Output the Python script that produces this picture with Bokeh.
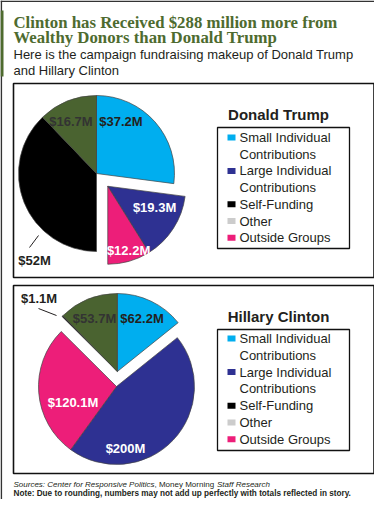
import numpy as np
from bokeh.plotting import figure
from bokeh.models import Range1d
from bokeh.core.properties import value
from bokeh.embed import file_html
from bokeh.resources import INLINE

# ---------------- data ----------------
title_lines = ["Clinton has Received $288 million more from",
               "Wealthy Donors than Donald Trump"]
subtitle_lines = ["Here is the campaign fundraising makeup of Donald Trump",
                  "and Hillary Clinton"]
categories = ["Small Individual Contributions", "Large Individual Contributions",
              "Self-Funding", "Other", "Outside Groups"]
legend_lines = [["Small Individual", "Contributions"],
                ["Large Individual", "Contributions"],
                ["Self-Funding"], ["Other"], ["Outside Groups"]]
candidates = ["Donald Trump", "Hillary Clinton"]
trump_values = [37.2, 19.3, 52.0, 16.7, 12.2]      # $M, in category order
clinton_values = [62.2, 200.0, 1.1, 53.7, 120.1]   # $M, in category order
trump_exploded = ["Large Individual Contributions", "Outside Groups"]
clinton_exploded = ["Self-Funding", "Other", "Small Individual Contributions"]
pie_order = ["Small Individual Contributions", "Large Individual Contributions",
             "Outside Groups", "Self-Funding", "Other"]   # clockwise from 12 o'clock
source_parts = ["Sources: Center for Responsive Politics", ", Money Morning", "Staff Research"]
note_text = "Note: Due to rounding, numbers may not add up perfectly with totals reflected in story."

# ---------------- style ----------------
pie_colors = {"Small Individual Contributions": "#00aeef",
              "Large Individual Contributions": "#2e3192",
              "Self-Funding": "#000000",
              "Other": "#4a6330",
              "Outside Groups": "#ed1e79"}
legend_colors = {"Small Individual Contributions": "#00aeef",
                 "Large Individual Contributions": "#2e3192",
                 "Self-Funding": "#000000",
                 "Other": "#cccccc",
                 "Outside Groups": "#ed1e79"}
label_colors = {"Small Individual Contributions": "#231f20",
                "Large Individual Contributions": "#ffffff",
                "Self-Funding": "#231f20",
                "Other": "#333333",
                "Outside Groups": "#ffffff"}
GREEN = "#4e6b2f"
DARK = "#231f20"
SANS = "Liberation Sans"
SERIF = "Liberation Serif"

W, H = 374, 499
PAGE_H = 515


def Y(py):
    return PAGE_H - py


p = figure(width=W, height=H, x_range=Range1d(0, W), y_range=Range1d(Y(H), Y(0)),
           output_backend="svg", toolbar_location=None, x_axis_type=None, y_axis_type=None,
           min_border=0)
p.grid.visible = False
p.outline_line_color = None
p.background_fill_color = "white"
p.border_fill_color = "white"

# outer frame (left and top edges) and left green accent bar
p.quad(left=[0], right=[1.6], top=[Y(0)], bottom=[Y(H)], fill_color="#333333", line_color=None)
p.quad(left=[0], right=[W], top=[Y(0)], bottom=[Y(1.6)], fill_color="#333333", line_color=None)
p.quad(left=[0], right=[3], top=[Y(10)], bottom=[Y(76)], fill_color=GREEN, line_color=None)

# titles
p.text(x=[13, 13], y=[Y(22), Y(37)], text=title_lines, text_font=value(SERIF),
       text_font_size=value("16.8px"), text_font_style="bold", text_color=GREEN,
       text_baseline="alphabetic")
p.text(x=[13, 13], y=[Y(54), Y(69.5)], text=subtitle_lines, text_font=value(SANS),
       text_font_size=value("13px"), text_color=DARK, text_baseline="alphabetic")

# panels
panels = [(13, 373.5, 83, 277), (13, 373.5, 285, 473)]
for (l, r, t, b) in panels:
    p.quad(left=[l], right=[r], top=[Y(t)], bottom=[Y(b)], fill_color=None,
           line_color="#111111", line_width=1.6)


def draw_pie(values, exploded, center, radius, offset, label_offsets, leader):
    vals = {c: v for c, v in zip(categories, values)}
    seq = [vals[c] for c in pie_order]
    total = sum(seq)
    cw = np.concatenate([[0.0], np.cumsum(seq)]) / total * 360.0
    # direction of the exploded group (weighted circular mean)
    sx = sy = 0.0
    for i, c in enumerate(pie_order):
        if c in exploded:
            w = cw[i + 1] - cw[i]
            m = np.radians((cw[i] + cw[i + 1]) / 2)
            sx += w * np.sin(m)
            sy += w * np.cos(m)
    mid = np.arctan2(sx, sy)
    ex = (center[0] + offset * np.sin(mid), center[1] - offset * np.cos(mid))
    for i, c in enumerate(pie_order):
        cx, cy = ex if c in exploded else center
        p.wedge(x=[cx], y=[Y(cy)], radius=radius,
                start_angle=np.radians(90 - cw[i + 1]), end_angle=np.radians(90 - cw[i]),
                direction="anticlock", fill_color=pie_colors[c],
                line_color="#444444", line_width=0.7)
    for c, (dx, dy) in label_offsets.items():
        cx, cy = ex if c in exploded else center
        txt = "${:g}M".format(vals[c])
        p.text(x=[cx + dx], y=[Y(cy + dy)], text=[txt], text_font=value(SANS),
               text_font_size=value("13px"), text_font_style="bold",
               text_color=label_colors[c], text_align="center", text_baseline="middle")
    (c, (x0, y0), (x1, y1)) = leader
    cx, cy = ex if c in exploded else center
    p.line(x=[cx + x0, cx + x1], y=[Y(cy + y0), Y(cy + y1)], line_color=DARK, line_width=1)


draw_pie(trump_values, trump_exploded, (96, 173), 78, 17,
         {"Small Individual Contributions": (24.5, -52),
          "Other": (-25.5, -52),
          "Large Individual Contributions": (46.8, 21.2),
          "Outside Groups": (20.8, 64.2),
          "Self-Funding": (-62, 87)},
         ("Self-Funding", (-58, 62), (-67, 74)))

draw_pie(clinton_values, clinton_exploded, (116, 386), 78, 15,
         {"Small Individual Contributions": (24.7, -53),
          "Other": (-22.8, -53),
          "Self-Funding": (-78.3, -73),
          "Outside Groups": (-43.5, 16),
          "Large Individual Contributions": (9, 62)},
         ("Self-Funding", (-78.8, -63), (-60.8, -56)))


def draw_legend(name, title_y, box, first_y, pitch):
    l, r, t, b = box
    p.text(x=[278], y=[Y(title_y)], text=[name], text_font=value(SANS),
           text_font_size=value("15px"), text_font_style="bold", text_color=DARK,
           text_align="center", text_baseline="middle")
    p.quad(left=[l], right=[r], top=[Y(t)], bottom=[Y(b)], fill_color="white",
           line_color="#111111", line_width=1.3)
    y = first_y
    xs, ys, texts = [], [], []
    for c, lines in zip(categories, legend_lines):
        p.quad(left=[227], right=[235], top=[Y(y - 3)], bottom=[Y(y + 3)],
               fill_color=legend_colors[c], line_color=None)
        for ln in lines:
            xs.append(239)
            ys.append(Y(y))
            texts.append(ln)
            y += pitch
    p.text(x=xs, y=ys, text=texts, text_font=value(SANS), text_font_size=value("13px"),
           text_color=DARK, text_baseline="middle")


draw_legend(candidates[0], 114, (217, 349, 127, 248), 137, 16.7)
draw_legend(candidates[1], 316, (217, 349, 329, 450), 338, 16.8)

# footer
FY1, FY2 = 483.5, 492.5
p.text(x=[13], y=[Y(FY1)], text=[source_parts[0]], text_font=value(SANS),
       text_font_size=value("8px"), text_font_style="italic", text_color=DARK,
       text_baseline="middle")
p.text(x=[154], y=[Y(FY1)], text=[source_parts[1]], text_font=value(SANS),
       text_font_size=value("8px"), text_color=DARK, text_baseline="middle")
p.text(x=[216.5], y=[Y(FY1)], text=[source_parts[2]], text_font=value(SANS),
       text_font_size=value("8px"), text_font_style="italic", text_color=DARK,
       text_baseline="middle")
p.text(x=[13], y=[Y(FY2)], text=[note_text], text_font=value(SANS),
       text_font_size=value("8.2px"), text_font_style="bold", text_color=DARK,
       text_baseline="middle")

open("out.html", "w").write(file_html(p, INLINE))
